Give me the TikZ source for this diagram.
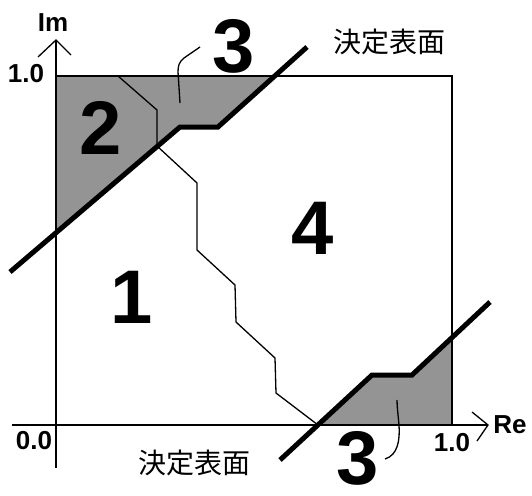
\documentclass[tikz,border=0pt]{standalone}
\usepackage{fontspec}
\setmainfont{Liberation Sans}
\newfontfamily\cjk{Noto Sans CJK JP}
\begin{document}
\begin{tikzpicture}[x=1pt,y=-1pt,
  region/.style={fill=black!42},
  thin/.style={line width=1.3pt,line join=miter},
  bound/.style={line width=5pt,line join=miter},
  big/.style={font=\fontsize{76}{76}\bfseries\selectfont,inner sep=0pt},
  small/.style={font=\fontsize{26}{26}\bfseries\selectfont,inner sep=0pt},
  jp/.style={font=\fontsize{28}{28}\cjk,inner sep=0pt}]
\useasboundingbox (0,0) rectangle (532,495);
\fill[white] (0,0) rectangle (532,495);
% shaded regions
\fill[region] (56,76) -- (118,76) -- (157,110) -- (157,146) -- (56,232) -- cycle;
\fill[region] (118,76) -- (272,76) -- (218,127) -- (180,127) -- (157,146) -- (157,110) -- cycle;
\fill[region] (318,425) -- (372,375) -- (412,375) -- (452,338) -- (452,425) -- cycle;
% axes and frame
\coordinate (o) at (56,425);
\coordinate (tl) at (56,76);
\coordinate (tr) at (452,76);
\coordinate (br) at (452,425);
\draw[thin] (tl) -- (tr) -- (br);
\coordinate (xs) at (12,425);
\coordinate (xe) at (488,425);
\draw[thin] (xs) -- (xe);
\draw[thin] (472,412) -- (xe) -- (477,441);
\coordinate (ys) at (56,468);
\coordinate (ye) at (56,40);
\draw[thin] (ys) -- (ye);
\draw[thin] (38,57) -- (ye) -- (71,55);
% class boundaries
\draw[thin] (118,76) -- (157,110) -- (157,146) -- (197,183) -- (197,250) -- (235,285)
  -- (236,322) -- (275,358) -- (276,393) -- (318,425);
% decision surfaces
\draw[bound] (10,272) -- (180,127) -- (218,127) -- (307,47);
\draw[bound] (280,460) -- (372,375) -- (412,375) -- (490,302);
% labels
\node[big] (n1) at (132,297) {1};
\node[big] (n2) at (101,128) {2};
\node[big] (n3a) at (234,46) {3};
\node[big] (n3b) at (358,458) {3};
\node[big] (n4) at (313,228) {4};
\node[small] (im) at (53,23) {Im};
\node[small] (re) at (510,425) {Re};
\node[small] (y1) at (26,74) {1.0};
\node[small] (x0) at (34,441) {0.0};
\node[small] (x1) at (452,443) {1.0};
\node[jp] (ds1) at (389,42) {決定表面};
\node[jp] (ds2) at (194,463) {決定表面};
% leaders
\draw[thin] (200,47) -- (184,58) .. controls (179,62) and (178,66) .. (178,72) -- (180,103);
\draw[thin] (385,459) .. controls (398,455) and (400,440) .. (399,425) .. controls (398,414) and (397,406) .. (397,400);
\end{tikzpicture}
\end{document}
